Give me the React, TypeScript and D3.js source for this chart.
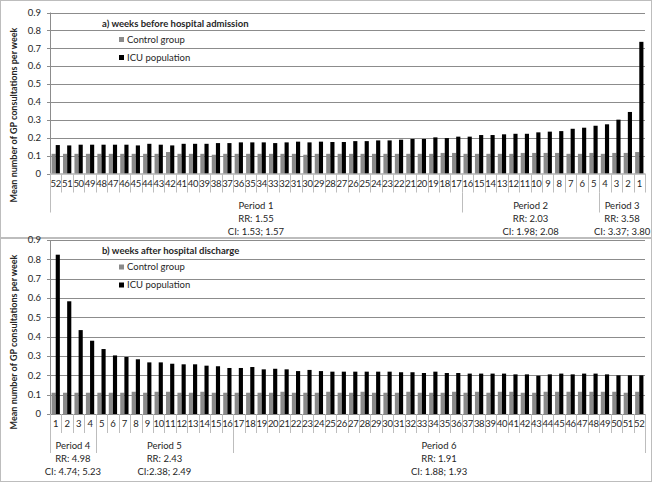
import React, { useEffect, useRef } from 'react';
import * as d3 from 'd3';

// ---- data: panel a) weeks before admission (week 52 -> 1)
const beforeWeeks = ['52','51','50','49','48','47','46','45','44','43','42','41','40','39','38','37','36','35','34','33','32','31','30','29','28','27','26','25','24','23','22','21','20','19','18','17','16','15','14','13','12','11','10','9','8','7','6','5','4','3','2','1'];
const beforeControl = [0.11,0.11,0.11,0.11,0.11,0.11,0.11,0.11,0.11,0.11,0.12,0.11,0.11,0.11,0.105,0.11,0.11,0.11,0.11,0.11,0.11,0.11,0.105,0.11,0.11,0.11,0.11,0.11,0.11,0.11,0.11,0.11,0.11,0.11,0.115,0.115,0.11,0.11,0.11,0.11,0.11,0.115,0.115,0.115,0.115,0.11,0.11,0.115,0.11,0.115,0.115,0.12];
const beforeICU = [0.159,0.157,0.161,0.161,0.161,0.161,0.161,0.157,0.166,0.161,0.157,0.166,0.166,0.166,0.170,0.170,0.174,0.174,0.174,0.170,0.174,0.178,0.174,0.178,0.176,0.176,0.181,0.181,0.185,0.185,0.189,0.193,0.193,0.202,0.198,0.206,0.206,0.215,0.215,0.219,0.222,0.222,0.230,0.234,0.237,0.250,0.256,0.267,0.275,0.301,0.344,0.736];
const beforePeriodNames = ['Period 1', 'Period 2', 'Period 3'];
const beforePeriodRR = ['RR: 1.55', 'RR: 2.03', 'RR: 3.58'];
const beforePeriodCI = ['CI: 1.53; 1.57', 'CI: 1.98; 2.08', 'CI: 3.37; 3.80'];
const beforePeriodSizes = [36, 12, 4];

// ---- data: panel b) weeks after discharge (week 1 -> 52)
const afterWeeks = ['1','2','3','4','5','6','7','8','9','10','11','12','13','14','15','16','17','18','19','20','21','22','23','24','25','26','27','28','29','30','31','32','33','34','35','36','37','38','39','40','41','42','43','44','45','46','47','48','49','50','51','52'];
const afterControl = [0.11,0.11,0.11,0.11,0.11,0.11,0.11,0.115,0.11,0.115,0.115,0.11,0.11,0.115,0.11,0.11,0.11,0.11,0.11,0.11,0.115,0.11,0.11,0.11,0.115,0.11,0.11,0.115,0.11,0.11,0.11,0.115,0.11,0.11,0.11,0.115,0.11,0.115,0.11,0.115,0.115,0.11,0.11,0.115,0.115,0.115,0.115,0.115,0.115,0.115,0.11,0.115];
const afterICU = [0.824,0.583,0.434,0.379,0.336,0.303,0.295,0.283,0.267,0.267,0.260,0.257,0.257,0.250,0.247,0.238,0.238,0.243,0.231,0.234,0.231,0.222,0.228,0.222,0.219,0.219,0.219,0.219,0.219,0.219,0.216,0.216,0.212,0.219,0.212,0.212,0.209,0.209,0.209,0.209,0.205,0.205,0.198,0.205,0.209,0.205,0.209,0.209,0.205,0.200,0.200,0.200];
const afterPeriodNames = ['Period 4', 'Period 5', 'Period 6'];
const afterPeriodRR = ['RR: 4.98', 'RR: 2.43', 'RR: 1.91'];
const afterPeriodCI = ['CI: 4.74; 5.23', 'CI:2.38; 2.49', 'CI: 1.88; 1.93'];
const afterPeriodSizes = [4, 12, 36];

const yTicks = [0, 0.1, 0.2, 0.3, 0.4, 0.5, 0.6, 0.7, 0.8, 0.9];
const seriesNames = ['Control group', 'ICU population'];
const seriesColors = ['#8a8a8a', '#000000'];

const FONT = 'Lato, "Open Sans", sans-serif';
const TEXT = '#262626';

interface PanelConfig {
  top: number;
  height: number;
  yTop: number;
  yZero: number;
  title: string;
  weeks: string[];
  control: number[];
  icu: number[];
  periodNames: string[];
  periodRR: string[];
  periodCI: string[];
  periodSizes: number[];
  rightEdge: boolean;
  labelY: number;
}

function drawPanel(svg: d3.Selection<SVGSVGElement, unknown, null, undefined>, c: PanelConfig) {
  const left = 50;
  const right = 645;

  const g = svg.append('g');

  // frame
  g.append('rect')
    .attr('x', 0.5)
    .attr('y', c.top + 0.5)
    .attr('width', 651)
    .attr('height', c.height)
    .style('fill', '#fff')
    .style('stroke', '#bdbdbd')
    .style('stroke-width', 1);

  const y = d3.scaleLinear().domain([0, 0.9]).range([c.yZero, c.yTop]);
  const x0 = d3.scaleBand<string>().domain(c.weeks).range([left, right]).padding(0);
  const x1 = d3
    .scaleBand<string>()
    .domain(['control', 'icu'])
    .range([0, x0.bandwidth()])
    .paddingInner(0)
    .paddingOuter(0.38);

  // grid lines
  g.selectAll('.grid')
    .data(yTicks.slice(1))
    .enter()
    .append('line')
    .attr('x1', left)
    .attr('x2', right)
    .attr('y1', d => Math.round(y(d)) + 0.5)
    .attr('y2', d => Math.round(y(d)) + 0.5)
    .style('stroke', '#8c8c8c')
    .style('stroke-width', 1);

  // y axis line and ticks
  g.append('line')
    .attr('x1', left + 0.5)
    .attr('x2', left + 0.5)
    .attr('y1', c.yTop)
    .attr('y2', c.yZero)
    .style('stroke', '#8c8c8c');
  g.selectAll('.ytick')
    .data(yTicks)
    .enter()
    .append('line')
    .attr('x1', left - 3)
    .attr('x2', left)
    .attr('y1', d => Math.round(y(d)) + 0.5)
    .attr('y2', d => Math.round(y(d)) + 0.5)
    .style('stroke', '#8c8c8c');
  g.selectAll('.ylabel')
    .data(yTicks)
    .enter()
    .append('text')
    .attr('x', 41)
    .attr('y', d => y(d))
    .attr('dy', '0.35em')
    .attr('text-anchor', 'end')
    .style('font-family', FONT)
    .style('font-size', '9.5px')
    .style('fill', TEXT)
    .text(d => (d === 0 ? '0' : d.toFixed(1)));

  // bars
  const rows = c.weeks.map((w, i) => ({ w, control: c.control[i], icu: c.icu[i] }));
  const groups = g
    .selectAll('.grp')
    .data(rows)
    .enter()
    .append('g')
    .attr('transform', d => `translate(${x0(d.w)},0)`);
  groups
    .append('rect')
    .attr('x', x1('control') as number)
    .attr('width', x1.bandwidth())
    .attr('y', d => y(d.control))
    .attr('height', d => c.yZero - y(d.control))
    .style('fill', seriesColors[0]);
  groups
    .append('rect')
    .attr('x', x1('icu') as number)
    .attr('width', x1.bandwidth())
    .attr('y', d => y(d.icu))
    .attr('height', d => c.yZero - y(d.icu))
    .style('fill', seriesColors[1]);

  // x axis line
  g.append('line')
    .attr('x1', left)
    .attr('x2', right)
    .attr('y1', c.yZero + 0.5)
    .attr('y2', c.yZero + 0.5)
    .style('stroke', '#8c8c8c');

  // category separators
  const catBottom = c.yZero + 19;
  const perBottom = c.yZero + 39;
  const bounds = c.weeks.map(w => x0(w) as number).concat([right]);
  g.selectAll('.sep')
    .data(bounds)
    .enter()
    .append('line')
    .attr('x1', d => Math.round(d) + 0.5)
    .attr('x2', d => Math.round(d) + 0.5)
    .attr('y1', c.yZero)
    .attr('y2', catBottom)
    .style('stroke', '#bdbdbd');

  g.selectAll('.cat')
    .data(c.weeks)
    .enter()
    .append('text')
    .attr('x', d => (x0(d) as number) + x0.bandwidth() / 2)
    .attr('y', c.yZero + 10)
    .attr('dy', '0.35em')
    .attr('text-anchor', 'middle')
    .style('font-family', FONT)
    .style('font-size', '9.5px')
    .style('letter-spacing', '-0.3px')
    .style('fill', TEXT)
    .text(d => d);

  // period groups
  let start = 0;
  const periods = c.periodNames.map((name, i) => {
    const from = start;
    start += c.periodSizes[i];
    const x1p = x0(c.weeks[from]) as number;
    const x2p = (x0(c.weeks[start - 1]) as number) + x0.bandwidth();
    return { name, rr: c.periodRR[i], ci: c.periodCI[i], x1p, x2p };
  });

  const periodLines = [left].concat(periods.slice(0, -1).map(p => p.x2p));
  if (c.rightEdge) periodLines.push(right);
  g.selectAll('.psep')
    .data(periodLines)
    .enter()
    .append('line')
    .attr('x1', d => Math.round(d) + 0.5)
    .attr('x2', d => Math.round(d) + 0.5)
    .attr('y1', d => (d === left ? c.yZero : catBottom))
    .attr('y2', perBottom)
    .style('stroke', '#bdbdbd');

  periods.forEach(p => {
    const cx = (p.x1p + p.x2p) / 2;
    [p.name, p.rr, p.ci].forEach((t, k) => {
      g.append('text')
        .attr('x', cx)
        .attr('y', c.yZero + 32 + k * 13)
        .attr('dy', '0.35em')
        .attr('text-anchor', 'middle')
        .style('font-family', FONT)
        .style('font-size', '9.5px')
        .style('fill', TEXT)
        .text(t);
    });
  });

  // title and legend
  g.append('text')
    .attr('x', 102)
    .attr('y', c.yTop + 11)
    .attr('dy', '0.35em')
    .style('font-family', FONT)
    .style('font-size', '9.5px')
    .style('font-weight', 'bold')
    .style('fill', TEXT)
    .text(c.title);

  seriesNames.forEach((name, i) => {
    const ly = c.yTop + 27 + i * 18;
    g.append('rect')
      .attr('x', 119)
      .attr('y', ly - 2.5)
      .attr('width', 5)
      .attr('height', 5)
      .style('fill', seriesColors[i]);
    g.append('text')
      .attr('x', 127)
      .attr('y', ly)
      .attr('dy', '0.35em')
      .style('font-family', FONT)
      .style('font-size', '9.5px')
      .style('fill', TEXT)
      .text(name);
  });

  // y axis title
  g.append('text')
    .attr('transform', `translate(14,${c.labelY}) rotate(-90)`)
    .attr('dy', '0.35em')
    .attr('text-anchor', 'middle')
    .style('font-family', FONT)
    .style('font-size', '9px')
    .style('font-weight', 'bold')
    .style('fill', TEXT)
    .text('Mean number of GP consultations  per week');
}

export default function App() {
  const svgRef = useRef<SVGSVGElement>(null);

  useEffect(() => {
    const svg = d3.select(svgRef.current as SVGSVGElement);
    svg.selectAll('*').remove();

    drawPanel(svg, {
      top: 0,
      height: 237,
      yTop: 12.5,
      yZero: 173.5,
      title: 'a) weeks before hospital admission',
      weeks: beforeWeeks,
      control: beforeControl,
      icu: beforeICU,
      periodNames: beforePeriodNames,
      periodRR: beforePeriodRR,
      periodCI: beforePeriodCI,
      periodSizes: beforePeriodSizes,
      rightEdge: false,
      labelY: 115,
    });

    drawPanel(svg, {
      top: 238,
      height: 243,
      yTop: 240,
      yZero: 414,
      title: 'b) weeks after hospital  discharge',
      weeks: afterWeeks,
      control: afterControl,
      icu: afterICU,
      periodNames: afterPeriodNames,
      periodRR: afterPeriodRR,
      periodCI: afterPeriodCI,
      periodSizes: afterPeriodSizes,
      rightEdge: true,
      labelY: 342,
    });
  }, []);

  return (
    <svg
      ref={svgRef}
      width={654}
      height={483}
      style={{ position: 'absolute', left: 0, top: 0, background: '#fff' }}
    />
  );
}
